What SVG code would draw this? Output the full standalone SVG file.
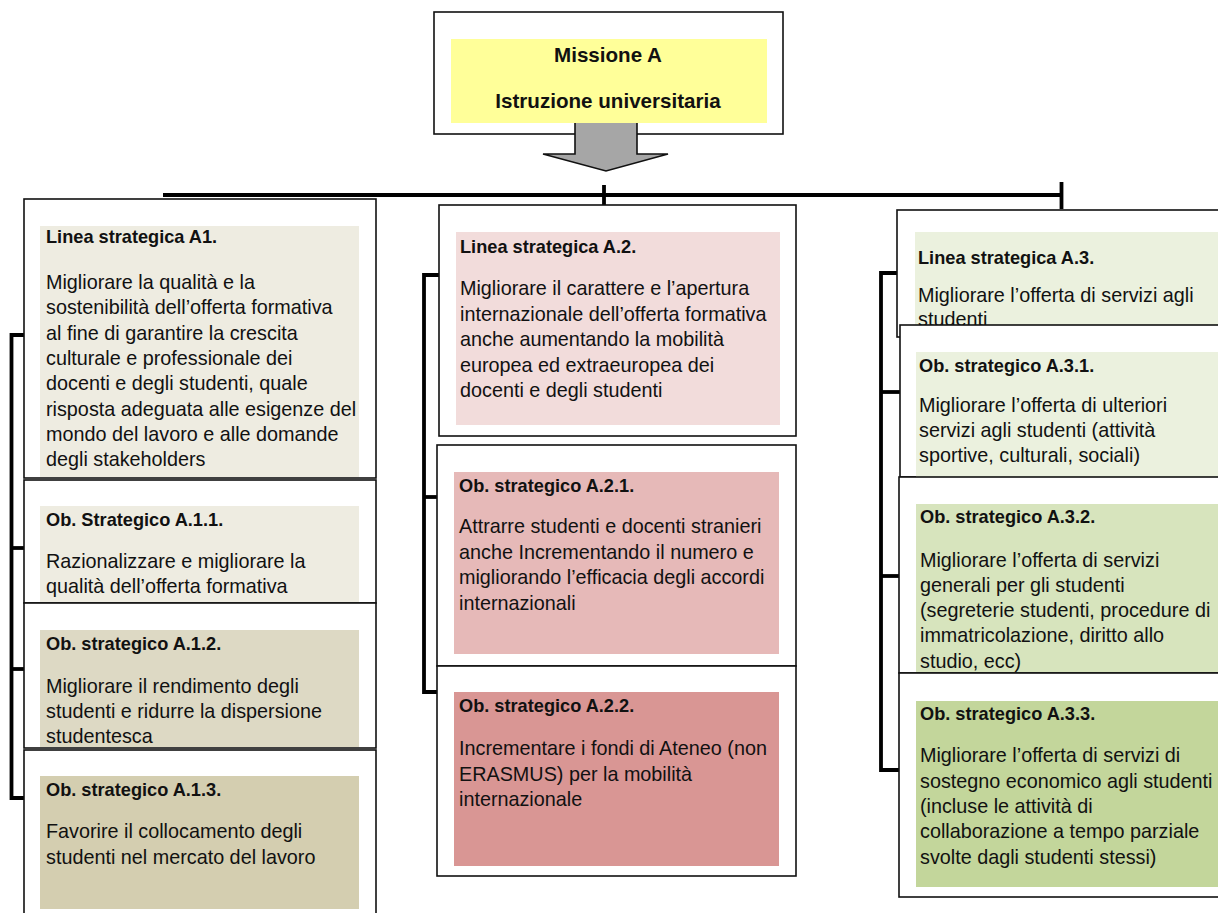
<svg xmlns="http://www.w3.org/2000/svg" width="1218" height="913" viewBox="0 0 1218 913">
<style>
.box{fill:#fff;stroke:#111;stroke-width:1.6}
.con{stroke:#000;stroke-width:3.8;fill:none}
.t{font-family:"Liberation Sans",Arial,sans-serif;font-size:19.8px;fill:#111}
.h{font-family:"Liberation Sans",Arial,sans-serif;font-size:18.2px;font-weight:bold;fill:#111}
.m{font-family:"Liberation Sans",Arial,sans-serif;font-size:20.6px;font-weight:bold;fill:#111;text-anchor:middle}
</style>
<rect width="1218" height="913" fill="#fff"/>
<g id="connectors">
<line class="con" x1="163" y1="195" x2="1062" y2="195" stroke-width="4.8"/>
<line class="con" x1="604" y1="185" x2="604" y2="205" stroke-width="5"/>
<line class="con" x1="1061.5" y1="182" x2="1061.5" y2="209" stroke-width="5"/>
<polyline class="con" points="24,335 11.5,335 11.5,798 24,798"/>
<line class="con" x1="11.5" y1="548" x2="24" y2="548"/>
<line class="con" x1="11.5" y1="669" x2="24" y2="669"/>
<polyline class="con" points="439,275 424,275 424,692 437,692"/>
<line class="con" x1="424" y1="497" x2="437" y2="497"/>
<polyline class="con" points="897,273 881,273 881,770 899,770"/>
<line class="con" x1="881" y1="392" x2="900" y2="392"/>
<line class="con" x1="881" y1="576" x2="899" y2="576"/>
</g>
<g id="missione">
<rect class="box" x="434" y="12" width="349" height="122"/>
<rect x="451" y="39" width="316" height="84" fill="#FFFF99"/>
<text class="m" x="608" y="62">Missione A</text>
<text class="m" x="608" y="108">Istruzione universitaria</text>
<polygon points="575,123 637,123 637,154 668,154 606,171 543,154 575,154" fill="#A6A6A6"/>
<polyline points="575,123 575,154 543,154 606,171 668,154 637,154 637,123" fill="none" stroke="#111" stroke-width="1.6"/>
</g>
<g id="A1">
<rect class="box" x="24" y="199" width="352" height="279"/>
<rect x="40" y="226" width="319" height="251" fill="#EEECE1"/>
<text class="h" x="46" y="243">Linea strategica A1.</text>
<text class="t" x="46" y="289">Migliorare la qualità e la</text>
<text class="t" x="46" y="314.3">sostenibilità dell’offerta formativa</text>
<text class="t" x="46" y="339.6">al fine di garantire la crescita</text>
<text class="t" x="46" y="364.9">culturale e professionale dei</text>
<text class="t" x="46" y="390.2">docenti e degli studenti, quale</text>
<text class="t" x="46" y="415.5">risposta adeguata alle esigenze del</text>
<text class="t" x="46" y="440.8">mondo del lavoro e alle domande</text>
<text class="t" x="46" y="466.1">degli stakeholders</text>
</g>
<g id="A1_1">
<rect class="box" x="24" y="480" width="352" height="123"/>
<rect x="40" y="506" width="319" height="96" fill="#EEECE1"/>
<text class="h" x="46" y="526">Ob. Strategico A.1.1.</text>
<text class="t" x="46" y="568">Razionalizzare e migliorare la</text>
<text class="t" x="46" y="593">qualità dell’offerta formativa</text>
</g>
<g id="A1_2">
<rect class="box" x="24" y="603" width="352" height="145"/>
<rect x="40" y="630" width="319" height="117" fill="#DDD9C4"/>
<text class="h" x="46" y="650">Ob. strategico A.1.2.</text>
<text class="t" x="46" y="693">Migliorare il rendimento degli</text>
<text class="t" x="46" y="718">studenti e ridurre la dispersione</text>
<text class="t" x="46" y="743">studentesca</text>
</g>
<g id="A1_3">
<rect class="box" x="24" y="750" width="352" height="175"/>
<rect x="40" y="776" width="319" height="133" fill="#D4CEB0"/>
<text class="h" x="46" y="796">Ob. strategico A.1.3.</text>
<text class="t" x="46" y="838">Favorire il collocamento degli</text>
<text class="t" x="46" y="864">studenti nel mercato del lavoro</text>
</g>
<g id="A2">
<rect class="box" x="439" y="205" width="357" height="231"/>
<rect x="456" y="232" width="324" height="193" fill="#F2DCDB"/>
<text class="h" x="460" y="253">Linea strategica A.2.</text>
<text class="t" x="460" y="295">Migliorare il carattere e l’apertura</text>
<text class="t" x="460" y="320.5">internazionale dell’offerta formativa</text>
<text class="t" x="460" y="346">anche aumentando la mobilità</text>
<text class="t" x="460" y="371.5">europea ed extraeuropea dei</text>
<text class="t" x="460" y="397">docenti e degli studenti</text>
</g>
<g id="A2_1">
<rect class="box" x="437" y="445" width="359" height="221"/>
<rect x="454" y="472" width="325" height="182" fill="#E6B9B8"/>
<text class="h" x="459" y="492">Ob. strategico A.2.1.</text>
<text class="t" x="459" y="533">Attrarre studenti e docenti stranieri</text>
<text class="t" x="459" y="558.5">anche Incrementando il numero e</text>
<text class="t" x="459" y="584">migliorando l’efficacia degli accordi</text>
<text class="t" x="459" y="609.5">internazionali</text>
</g>
<g id="A2_2">
<rect class="box" x="437" y="666" width="359" height="210"/>
<rect x="454" y="692" width="325" height="174" fill="#D99694"/>
<text class="h" x="459" y="712">Ob. strategico A.2.2.</text>
<text class="t" x="459" y="755">Incrementare i fondi di Ateneo (non</text>
<text class="t" x="459" y="780.5">ERASMUS) per la mobilità</text>
<text class="t" x="459" y="806">internazionale</text>
</g>
<g id="A3">
<rect class="box" x="897" y="210" width="340" height="127"/>
<rect x="915" y="232" width="310" height="100" fill="#EBF1DE"/>
<text class="h" x="918" y="264">Linea strategica A.3.</text>
<text class="t" x="918" y="302">Migliorare l’offerta di servizi agli</text>
<text class="t" x="918" y="326">studenti</text>
</g>
<g id="A3_1">
<rect class="box" x="900" y="325" width="337" height="152"/>
<rect x="916" y="352" width="310" height="125" fill="#EBF1DE"/>
<text class="h" x="919" y="372">Ob. strategico A.3.1.</text>
<text class="t" x="919" y="412">Migliorare l’offerta di ulteriori</text>
<text class="t" x="919" y="437">servizi agli studenti (attività</text>
<text class="t" x="919" y="462">sportive, culturali, sociali)</text>
</g>
<g id="A3_2">
<rect class="box" x="899" y="477" width="338" height="196"/>
<rect x="916" y="504" width="310" height="168" fill="#D7E4BD"/>
<text class="h" x="920" y="523">Ob. strategico A.3.2.</text>
<text class="t" x="920" y="567">Migliorare l’offerta di servizi</text>
<text class="t" x="920" y="592">generali per gli studenti</text>
<text class="t" x="920" y="617">(segreterie studenti, procedure di</text>
<text class="t" x="920" y="642">immatricolazione, diritto allo</text>
<text class="t" x="920" y="668">studio, ecc)</text>
</g>
<g id="A3_3">
<rect class="box" x="899" y="673" width="338" height="224"/>
<rect x="916" y="701" width="310" height="186" fill="#C3D69B"/>
<text class="h" x="920" y="720">Ob. strategico A.3.3.</text>
<text class="t" x="920" y="762">Migliorare l’offerta di servizi di</text>
<text class="t" x="920" y="788">sostegno economico agli studenti</text>
<text class="t" x="920" y="813">(incluse le attività di</text>
<text class="t" x="920" y="838">collaborazione a tempo parziale</text>
<text class="t" x="920" y="864">svolte dagli studenti stessi)</text>
</g>
</svg>
